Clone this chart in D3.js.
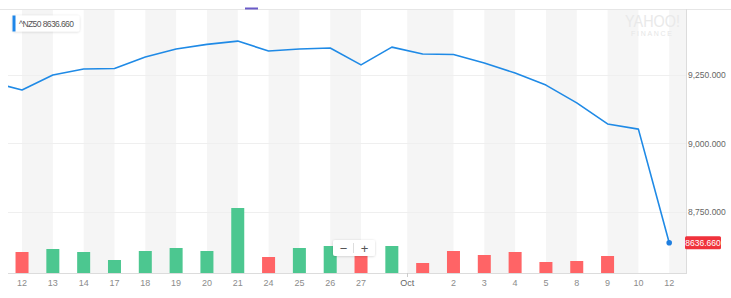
<!DOCTYPE html>
<html>
<head>
<meta charset="utf-8">
<script src="https://cdn.jsdelivr.net/npm/d3@7"></script>
<style>
  body { margin: 0; background: #fff; }
  svg { display: block; font-family: "Liberation Sans", Arial, sans-serif; }
</style>
</head>
<body>
<div id="chart"></div>
<script>
// data (first point is the day before the window, clipped at the left edge)
var days = ["09-11","09-12","09-13","09-14","09-17","09-18","09-19","09-20","09-21","09-24","09-25","09-26",
            "09-27","09-28","10-01","10-02","10-03","10-04","10-05","10-08","10-09","10-10","10-12"];
var closes = [9224, 9195, 9250, 9272, 9274, 9316, 9345, 9362, 9374, 9338, 9345, 9349,
              9287, 9352, 9327, 9325, 9294, 9257, 9213, 9148, 9071, 9052, 8636.66];
var volumes = [0, 42, 48, 42, 26, 44, 50, 44, 130, 32, 50, 54,
               44, 54, 20, 44, 36, 42, 22, 24, 34, 0, 0];
var tickLabels = ["12","13","14","17","18","19","20","21","24","25","26","27","Oct",
                  "2","3","4","5","8","9","10","12"];
var priceTicks = [8750, 9000, 9250];
var symbol = "^NZ50";

var W = 731, H = 298;
var pLeft = 8, pRight = 686, pTop = 9, pBottom = 273;

var svg = d3.select("#chart").append("svg")
    .attr("width", W)
    .attr("height", H);

var x = d3.scaleLinear()
    .domain([0.545, days.length - 0.455])
    .range([pLeft, pRight]);

var y = d3.scaleLinear()
    .domain([8750, 9250])
    .range([211.7, 75]);

var yVol = d3.scaleLinear()
    .domain([0, 130])
    .range([pBottom, 208]);

// tick positions: day labels on their day, month label between the two months
var ticks = [];
var di = 1;
tickLabels.forEach(function(lab) {
    if (isNaN(+lab)) {
        var m = days.findIndex(function(d, j) { return j > 0 && d.slice(0, 2) != days[j - 1].slice(0, 2); });
        ticks.push({ label: lab, pos: m - 0.5, month: true });
    } else {
        while (di < days.length && +days[di].slice(3) != +lab) di++;
        ticks.push({ label: lab, pos: di, month: false });
        di++;
    }
});

// top border
svg.append("line")
    .attr("x1", 0).attr("x2", W)
    .attr("y1", pTop + 0.5).attr("y2", pTop + 0.5)
    .style("stroke", "#e6e6e6");

// alternating bands between labels
for (var t = 0; t < ticks.length; t += 2) {
    var a = x(ticks[t].pos);
    var b = t + 1 < ticks.length ? x(ticks[t + 1].pos) : pRight;
    svg.append("rect")
        .attr("x", a).attr("y", pTop + 1)
        .attr("width", b - a).attr("height", pBottom - pTop - 1)
        .style("fill", "#f5f5f5");
}

// grid lines
svg.selectAll(".grid").data(priceTicks).enter().append("line")
    .attr("class", "grid")
    .attr("x1", pLeft).attr("x2", pRight)
    .attr("y1", function(d) { return Math.round(y(d)) + 0.5; })
    .attr("y2", function(d) { return Math.round(y(d)) + 0.5; })
    .style("stroke", "#efefef");

// watermark
svg.append("text")
    .attr("x", 625).attr("y", 27)
    .attr("textLength", 55)
    .attr("lengthAdjust", "spacingAndGlyphs")
    .style("font-size", "16px")
    .style("fill", "#e9e9e9")
    .text("YAHOO!");
svg.append("text")
    .attr("x", 631).attr("y", 36)
    .attr("textLength", 41)
    .attr("lengthAdjust", "spacing")
    .style("font-size", "7px")
    .style("fill", "#e6e6e6")
    .text("FINANCE");

// volume bars
var bars = [];
for (var i = 1; i < days.length; i++) {
    if (volumes[i] > 0) bars.push({ i: i, v: volumes[i], up: closes[i] >= closes[i - 1] });
}
svg.selectAll(".vol").data(bars).enter().append("rect")
    .attr("class", "vol")
    .attr("x", function(d) { return x(d.i) - 6.5; })
    .attr("width", 13)
    .attr("y", function(d) { return yVol(d.v); })
    .attr("height", function(d) { return pBottom - yVol(d.v); })
    .style("fill", function(d) { return d.up ? "#4cc790" : "#ff6466"; });

// price line
svg.append("clipPath").attr("id", "clip")
    .append("rect").attr("x", pLeft).attr("y", 0).attr("width", pRight - pLeft).attr("height", H);

var line = d3.line()
    .x(function(d, i) { return x(i); })
    .y(function(d) { return y(d); });

svg.append("path")
    .datum(closes)
    .attr("d", line)
    .attr("clip-path", "url(#clip)")
    .style("fill", "none")
    .style("stroke", "#1f8ae6")
    .style("stroke-width", "1.6px")
    .style("stroke-linejoin", "round");

var last = closes.length - 1;
svg.append("circle")
    .attr("cx", x(last)).attr("cy", y(closes[last]))
    .attr("r", 2.8)
    .style("fill", "#1f7fe0");

// event marker on top
svg.append("rect")
    .attr("x", 245).attr("y", 7.5)
    .attr("width", 13).attr("height", 2)
    .style("fill", "#6a5bc8");

// x axis
svg.append("line")
    .attr("x1", pLeft).attr("x2", pRight)
    .attr("y1", pBottom + 0.5).attr("y2", pBottom + 0.5)
    .style("stroke", "#dcdcdc");

svg.selectAll(".xt").data(ticks).enter().append("text")
    .attr("class", "xt")
    .attr("x", function(d) { return x(d.pos); })
    .attr("y", 286)
    .attr("text-anchor", "middle")
    .style("font-size", "9px")
    .style("fill", function(d) { return d.month ? "#666" : "#8c8c8c"; })
    .text(function(d) { return d.label; });

svg.selectAll(".xm").data(ticks.filter(function(d) { return d.month; })).enter().append("line")
    .attr("x1", function(d) { return Math.round(x(d.pos)) + 0.5; })
    .attr("x2", function(d) { return Math.round(x(d.pos)) + 0.5; })
    .attr("y1", pBottom).attr("y2", pBottom + 4)
    .style("stroke", "#ccc");

// right axis
svg.append("line")
    .attr("x1", pRight + 0.5).attr("x2", pRight + 0.5)
    .attr("y1", pTop).attr("y2", pBottom + 1)
    .style("stroke", "#dcdcdc");

svg.append("g")
    .attr("transform", "translate(" + (pRight + 2) + ",0)")
    .call(d3.axisRight(y).tickValues(priceTicks).tickSize(0).tickPadding(0).tickFormat(d3.format(",.3f")))
    .call(function(g) { g.select(".domain").remove(); })
    .call(function(g) {
        g.selectAll("text")
            .style("font-family", "'Liberation Sans', Arial, sans-serif")
            .style("font-size", "8.5px")
            .style("fill", "#666");
    });

// last price label
var ly = y(closes[last]);
svg.append("rect")
    .attr("x", 685).attr("y", ly - 6.5)
    .attr("width", 36).attr("height", 13)
    .attr("rx", 1.5)
    .style("fill", "#f0323c");
svg.append("text")
    .attr("x", 703).attr("y", ly + 3)
    .attr("text-anchor", "middle")
    .style("font-size", "8.5px")
    .style("fill", "#fff")
    .text(d3.format(".3f")(closes[last]));

// legend
var defs = svg.append("defs");
var f = defs.append("filter").attr("id", "sh").attr("x", "-20%").attr("y", "-40%").attr("width", "140%").attr("height", "180%");
f.append("feDropShadow").attr("dx", 0).attr("dy", 0.5).attr("stdDeviation", 1.2).attr("flood-color", "#000").attr("flood-opacity", 0.18);

svg.append("rect")
    .attr("x", 12.5).attr("y", 15.5)
    .attr("width", 67).attr("height", 16)
    .attr("rx", 2)
    .attr("filter", "url(#sh)")
    .style("fill", "#fff");
svg.append("rect")
    .attr("x", 12.5).attr("y", 15.5)
    .attr("width", 3).attr("height", 16)
    .style("fill", "#1f86e8");
svg.append("text")
    .attr("x", 19).attr("y", 26.5)
    .attr("textLength", 55)
    .attr("lengthAdjust", "spacing")
    .style("font-size", "8.5px")
    .style("fill", "#555")
    .text(symbol + " " + d3.format(".3f")(closes[last]));

// zoom control
var zc = svg.append("g").attr("transform", "translate(333,240)");
zc.append("rect")
    .attr("width", 42).attr("height", 16)
    .attr("rx", 2)
    .attr("filter", "url(#sh)")
    .style("fill", "#fff");
zc.append("line")
    .attr("x1", 20.5).attr("x2", 20.5).attr("y1", 3).attr("y2", 13)
    .style("stroke", "#ddd");
zc.append("text").attr("x", 10.5).attr("y", 12.5).attr("text-anchor", "middle")
    .style("font-size", "13px").style("fill", "#555").text("\u2212");
zc.append("text").attr("x", 31.5).attr("y", 12.5).attr("text-anchor", "middle")
    .style("font-size", "13px").style("fill", "#555").text("+");
</script>
</body>
</html>
